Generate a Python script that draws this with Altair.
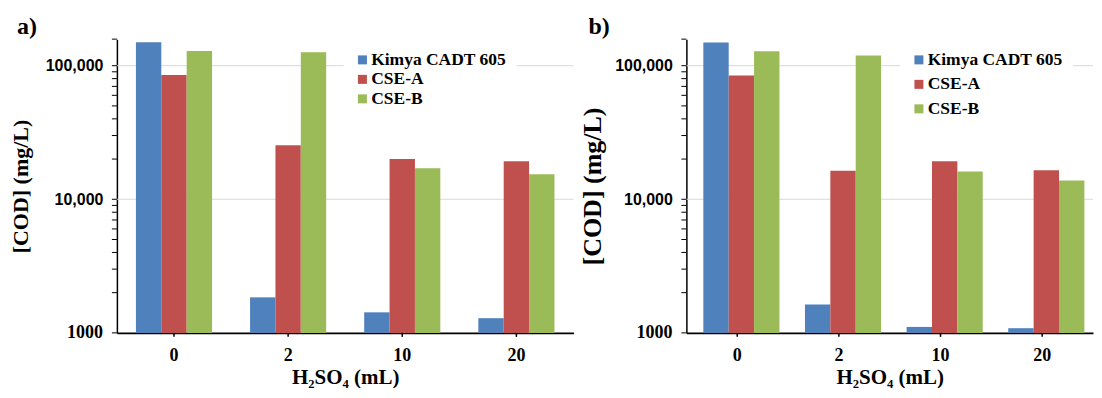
import altair as alt
import pandas as pd

# ---------------- data ----------------
doses = ["0", "2", "10", "20"]
series = ["Kimya CADT 605", "CSE-A", "CSE-B"]
colors = ["#4F81BD", "#C0504D", "#9BBB59"]

a_kimya = [150000, 1845, 1425, 1288]
a_cse_a = [85300, 25400, 20000, 19230]
a_cse_b = [128600, 125800, 17070, 15380]

b_kimya = [149000, 1633, 1108, 1084]
b_cse_a = [84300, 16330, 19250, 16500]
b_cse_b = [128300, 119300, 16140, 13830]

y_ticks = [1000, 2000, 3000, 4000, 5000, 6000, 7000, 8000, 9000,
           10000, 20000, 30000, 40000, 50000, 60000, 70000, 80000, 90000,
           100000, 158000]
y_labels = [10000, 100000]
y_grid = [10000, 100000]
y_serif_label = [1000]
y_domain = [1000, 158000]

SERIF = "Liberation Serif"
SANS = "Liberation Sans"


def make_df(k, ca, cb):
    rows = []
    for name, vals in zip(series, [k, ca, cb]):
        for d, v in zip(doses, vals):
            rows.append({"dose": d, "series": name, "value": v})
    return pd.DataFrame(rows)


def panel(df, label, width, height, ytitle_size, ytitle_pad,
          legend_x, legend_y, row_pad, title_dx):
    x_scale = alt.Scale(domain=doses, paddingInner=0.333, paddingOuter=0.1667)
    y_scale = alt.Scale(type="log", domain=y_domain, nice=False)

    y_axis = alt.Axis(
        values=y_labels,
        format=",d",
        labelFont=SANS,
        labelFontSize=16,
        labelFontWeight="bold",
        labelColor="black",
        labelOverlap=False,
        labelFlush=False,
        labelPadding=14,
        ticks=False,
        tickSize=0,
        domainColor="black",
        domainWidth=1.5,
        grid=False,
        title="[COD] (mg/L)",
        titleFont=SERIF,
        titleFontSize=ytitle_size,
        titleFontWeight="bold",
        titleColor="black",
        titlePadding=ytitle_pad,
    )

    x_axis = alt.Axis(
        labelAngle=0,
        labelFont=SERIF,
        labelFontSize=18,
        labelFontWeight="bold",
        labelColor="black",
        labelPadding=14,
        ticks=False,
        tickSize=0,
        domain=True,
        domainColor="black",
        domainWidth=2,
        grid=False,
        title="H₂SO₄ (mL)",
        titleFont=SERIF,
        titleFontSize=21,
        titleFontWeight="bold",
        titleColor="black",
        titlePadding=2,
    )

    # gridlines (first layer, carries the y axis)
    grid = alt.Chart(pd.DataFrame({"g": y_grid})).mark_rule(
        color="#D9D9D9", strokeWidth=1
    ).encode(
        y=alt.Y("g:Q", scale=y_scale, axis=y_axis),
        x=alt.value(0), x2=alt.value(width),
    )

    bars = alt.Chart(df).mark_bar().encode(
        x=alt.X("dose:N", scale=x_scale, axis=x_axis),
        xOffset=alt.XOffset("series:N", sort=series,
                            scale=alt.Scale(domain=series, paddingInner=0, paddingOuter=0)),
        y=alt.Y("value:Q", scale=y_scale),
        y2=alt.datum(1000),
        color=alt.Color(
            "series:N", sort=series,
            scale=alt.Scale(domain=series, range=colors),
            legend=alt.Legend(
                title=None, orient="none", legendX=legend_x, legendY=legend_y,
                labelFont=SERIF, labelFontSize=17.5, labelFontWeight="bold",
                labelColor="black", labelLimit=0, labelOffset=0,
                symbolType="square", symbolSize=81, symbolStrokeWidth=0,
                rowPadding=row_pad, fillColor="white", padding=10,
            ),
        ),
    )

    # y-axis ticks (pointing left)
    yticks = alt.Chart(pd.DataFrame({"t": y_ticks})).mark_rule(
        color="black", strokeWidth=1
    ).encode(
        y=alt.Y("t:Q", scale=y_scale),
        x=alt.value(-5), x2=alt.value(0),
    )

    # x-axis ticks at category centres (pointing down)
    xticks = alt.Chart(pd.DataFrame({"d": doses})).mark_rule(
        color="black", strokeWidth=1.5
    ).encode(
        x=alt.X("d:N", scale=x_scale, bandPosition=0.5),
        y=alt.value(height), y2=alt.value(height + 4),
    )

    lab = alt.Chart(pd.DataFrame({"v": y_serif_label})).mark_text(
        font=SERIF, fontSize=18, fontWeight="bold", color="black",
        align="right", baseline="middle", dx=-14,
    ).encode(
        y=alt.Y("v:Q", scale=y_scale),
        x=alt.value(0),
        text=alt.Text("v:Q", format="d"),
    )

    return alt.layer(grid, bars, yticks, xticks, lab).properties(
        width=width, height=height,
        title=alt.TitleParams(text=label, anchor="start", frame="group",
                              font=SERIF, fontSize=24, fontWeight="bold",
                              color="black", dx=title_dx, offset=0),
    )


left = panel(make_df(a_kimya, a_cse_a, a_cse_b), "a)", 457, 294,
             22, 13, 227, 2, 0.5, -100)
right = panel(make_df(b_kimya, b_cse_a, b_cse_b), "b)", 407, 294,
              26, 9, 214, 2, 5.5, -98)

chart = alt.hconcat(left, right, spacing=5).resolve_scale(
    color="independent", x="independent", y="independent"
).resolve_legend(color="independent").properties(
    padding={"left": 1, "top": 6, "right": 0, "bottom": 0},
    background="white",
).configure_view(stroke=None)

chart.save("out.html", embed_options={"renderer": "svg", "actions": False})
